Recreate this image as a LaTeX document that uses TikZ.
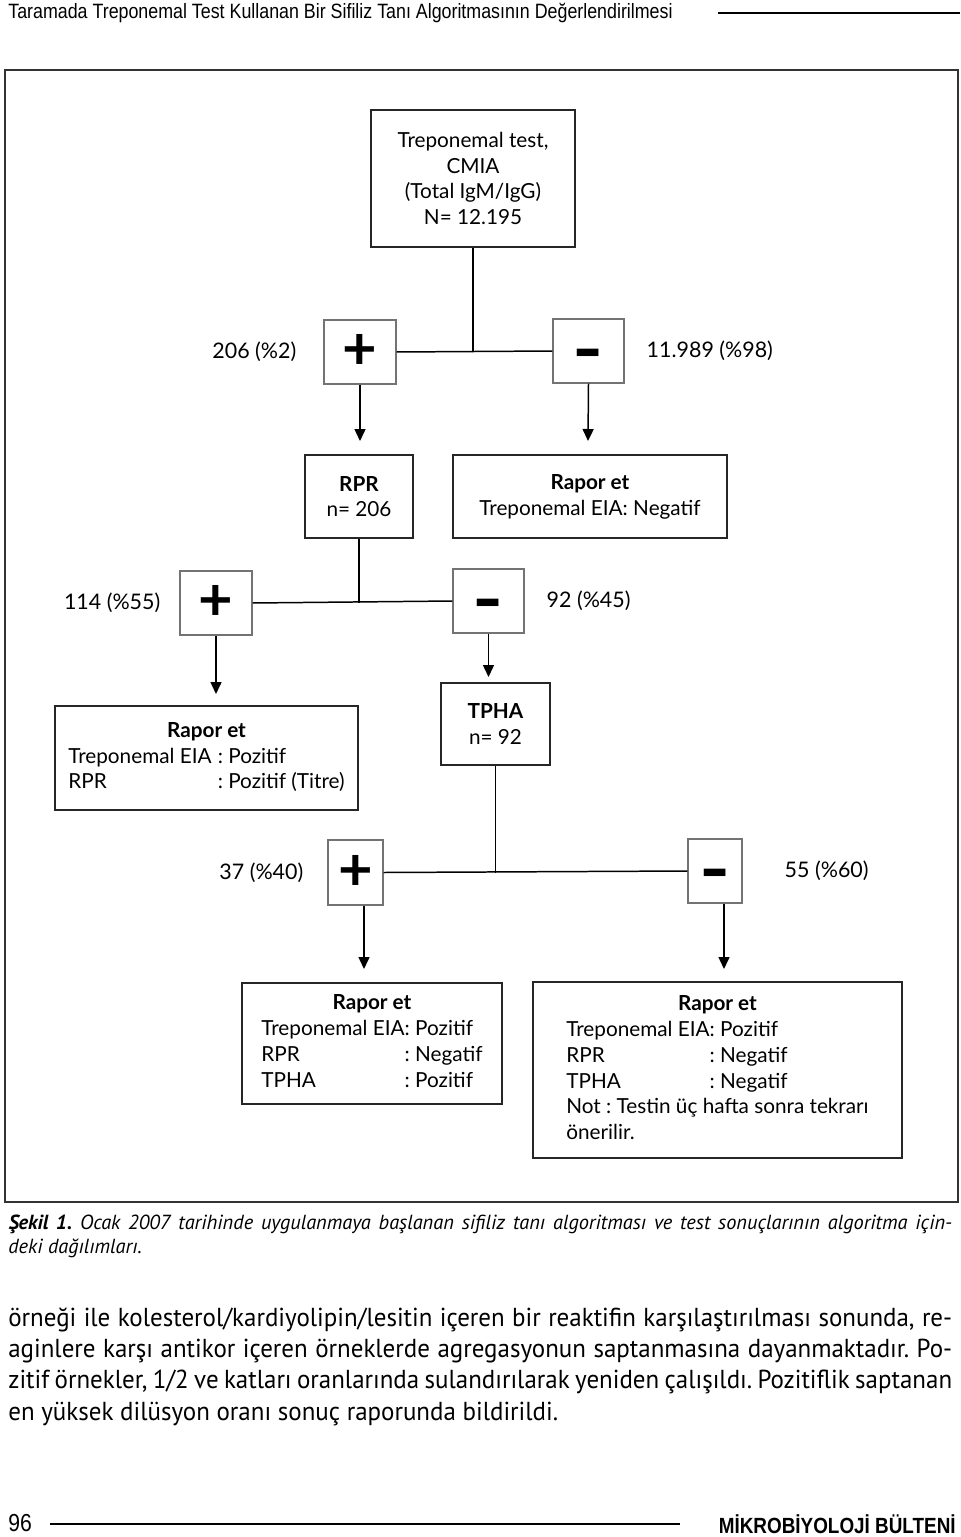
\documentclass[tikz,border=0pt]{standalone}
\usepackage{fontspec}
\setmainfont{Lato}
\newfontfamily\headfont[FakeStretch=0.86]{Liberation Sans}
\newfontfamily\bodyfont{PT Sans}
\newfontfamily\parafont[FakeStretch=0.96]{PT Sans}
\usetikzlibrary{positioning,arrows.meta}
\frenchspacing

\tikzset{
  stepbox/.style={draw=black!85, line width=0.9pt, inner sep=0pt, align=center,
    font=\fontsize{11.8}{14.7}\selectfont},
  signbox/.style={draw=black!55, line width=0.6pt, inner sep=0pt,
    font=\bfseries\fontsize{34}{34}\selectfont},
  count/.style={font=\fontsize{12.2}{14}\selectfont},
  flow/.style={line width=0.85pt, -{Triangle[length=0.24cm,width=0.22cm]}},
  link/.style={line width=0.85pt}
}
\newcommand{\minussign}{\raisebox{-13.5pt}[0pt][0pt]{\scalebox{1.4}[1.2]{-}}}

\begin{document}
\begin{tikzpicture}[x=0.02cm, y=-0.02cm]
    \useasboundingbox (0,0) rectangle (960,1537);
    % page head
    \node[anchor=west, inner sep=0pt, font=\headfont\fontsize{11.8}{13}\selectfont] (head) at (8,13)
      {Taramada Treponemal Test Kullanan Bir Sifiliz Tanı Algoritmasının Değerlendirilmesi};
    \draw[line width=0.6pt] (718,13) -- (960,13);
    % frame
    \draw[line width=1.1pt, black!80] (5,70) rectangle (958,1202);

    % level 1
    \node[stepbox, minimum width=4.08cm, minimum height=2.74cm] (cmia) at (473,178.5)
      {Treponemal test,\\CMIA\\(Total IgM/IgG)\\N= 12.195};
    \node[signbox, minimum width=1.44cm, minimum height=1.28cm] (pos1) at (360,352) {+};
    \node[signbox, minimum width=1.42cm, minimum height=1.28cm] (neg1) at (588.5,351) {\minussign};
    \node[count, left=0.42cm of pos1] (pct1) {206 (\%2)};
    \node[count, right=0.32cm of neg1] (pct2) {11.989 (\%98)};
    \draw[link] (cmia.south) -- (cmia.south |- pos1.east);
    \draw[link] (pos1.east) -- (neg1.west);
    \coordinate (tip1) at (360,441);
    \coordinate (tip2) at (588,441);
    \draw[flow] (pos1.south) -- (tip1);
    \draw[flow] (neg1.south) -- (tip2);

    % level 2
    \node[stepbox, minimum width=2.16cm, minimum height=1.66cm] (rpr) at (359,496.5)
      {\textbf{RPR}\\n= 206};
    \node[stepbox, minimum width=5.48cm, minimum height=1.66cm] (eianeg) at (590,496.5)
      {\textbf{Rapor et}\\Treponemal EIA: Negatif};
    \node[signbox, minimum width=1.44cm, minimum height=1.28cm] (pos2) at (216,603) {+};
    \node[signbox, minimum width=1.42cm, minimum height=1.28cm] (neg2) at (488.5,601) {\minussign};
    \node[count, left=0.26cm of pos2] (pct3) {114 (\%55)};
    \node[count, right=0.32cm of neg2] (pct4) {92 (\%45)};
    \draw[link] (rpr.south) -- (rpr.south |- pos2.east);
    \draw[link] (pos2.east) -- (neg2.west);
    \coordinate (tip3) at (216,694);
    \coordinate (tip4) at (488.5,677);
    \draw[flow] (pos2.south) -- (tip3);
    \draw[flow] (neg2.south) -- (tip4);

    % level 3
    \node[stepbox, minimum width=6.06cm, minimum height=2.08cm] (reprpr) at (206.5,758)
      {\begin{tabular}{@{}l@{}l@{}}
         \multicolumn{2}{c}{\textbf{Rapor et}}\\
         Treponemal EIA\hspace{0.3em} & : Pozitif\\
         RPR & : Pozitif (Titre)
       \end{tabular}};
    \node[stepbox, minimum width=2.18cm, minimum height=1.64cm] (tpha) at (495.5,724)
      {\textbf{TPHA}\\n= 92};
    \node[signbox, minimum width=1.1cm, minimum height=1.3cm] (pos3) at (355.5,872.5) {+};
    \node[signbox, minimum width=1.08cm, minimum height=1.28cm] (neg3) at (715,871) {\minussign};
    \node[count, left=0.36cm of pos3] (pct5) {37 (\%40)};
    \node[count, right=0.72cm of neg3] (pct6) {55 (\%60)};
    \draw[link] (tpha.south) -- (tpha.south |- pos3.east);
    \draw[link] (pos3.east) -- (neg3.west);
    \coordinate (tip5) at (364,969);
    \coordinate (tip6) at (724,969);
    \draw[flow] (pos3.south -| tip5) -- (tip5);
    \draw[flow] (neg3.south -| tip6) -- (tip6);

    % level 4
    \node[stepbox, minimum width=5.2cm, minimum height=2.42cm] (reptpha) at (372,1043.5)
      {\begin{tabular}{@{}l@{}l@{}}
         \multicolumn{2}{c}{\textbf{Rapor et}}\\
         Treponemal EIA & : Pozitif\\
         RPR & : Negatif\\
         TPHA & : Pozitif
       \end{tabular}};
    \node[stepbox, minimum width=7.38cm, minimum height=3.52cm] (repnot) at (717.5,1070)
      {\begin{tabular}{@{}l@{}l@{}}
         \multicolumn{2}{c}{\textbf{Rapor et}}\\
         Treponemal EIA & : Pozitif\\
         RPR & : Negatif\\
         TPHA & : Negatif\\
         \multicolumn{2}{@{}l@{}}{Not : Testin üç hafta sonra tekrarı}\\
         \multicolumn{2}{@{}l@{}}{önerilir.}
       \end{tabular}};

    % caption and text
    \node[anchor=north west, inner sep=0pt, text width=18.88cm, align=justify,
      font=\bodyfont\itshape\fontsize{11.6}{13.6}\selectfont] (caption) at (8,1215)
      {\textbf{Şekil 1.} Ocak 2007 tarihinde uygulanmaya başlanan sifiliz tanı algoritması ve test sonuçlarının algoritma için-\linebreak deki dağılımları.};
    \node[anchor=north west, inner sep=0pt, text width=18.88cm, align=justify,
      font=\parafont\fontsize{14.8}{17.9}\selectfont] (para) at (8,1307)
      {\hyphenpenalty=10000
       örneği ile kolesterol/kardiyolipin/lesitin içeren bir reaktifin karşılaştırılması sonunda, re-\linebreak
       aginlere karşı antikor içeren örneklerde agregasyonun saptanmasına dayanmaktadır. Po-\linebreak
       zitif örnekler, 1/2 ve katları oranlarında sulandırılarak yeniden çalışıldı. Pozitiflik saptanan\linebreak
       en yüksek dilüsyon oranı sonuç raporunda bildirildi.};

    % page foot
    \node[anchor=west, inner sep=0pt, font=\headfont\fontsize{14}{15}\selectfont] (pageno) at (8,1523) {96};
    \draw[line width=0.6pt] (50,1524) -- (680,1524);
    \node[anchor=east, inner sep=0pt, font=\headfont\bfseries\fontsize{12.5}{14}\selectfont] (journal) at (956,1524)
      {MİKROBİYOLOJİ BÜLTENİ};
\end{tikzpicture}
\end{document}
